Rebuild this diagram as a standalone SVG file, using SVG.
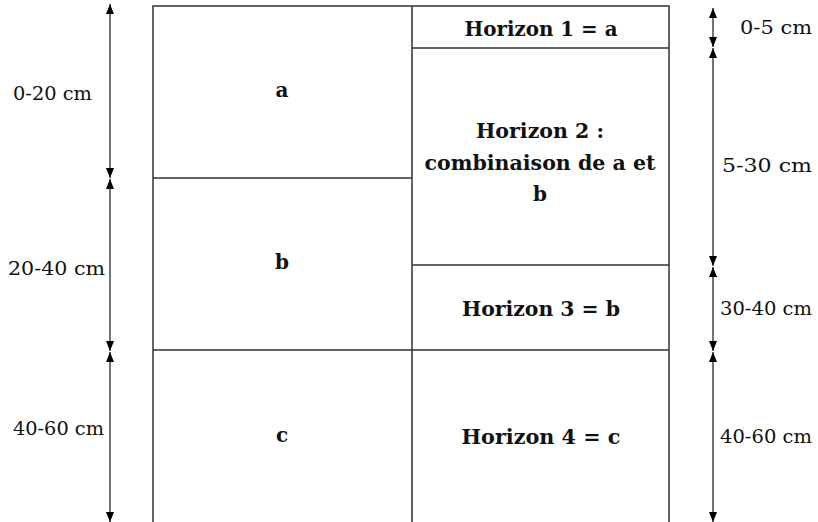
<svg xmlns="http://www.w3.org/2000/svg" width="818" height="522" viewBox="0 0 818 522">
<style>
.ln{stroke:#333;stroke-width:1.5;fill:none}
.ar{stroke:#444;stroke-width:1.5;fill:none;marker-start:url(#h);marker-end:url(#h)}
text{font-family:'DejaVu Serif',serif;fill:#111}
.t{font-size:19px}
.b{font-size:20px;font-weight:bold;text-anchor:middle}
</style>
<defs>
<marker id="h" viewBox="0 0 10 8" refX="10" refY="4" markerWidth="10" markerHeight="8" markerUnits="userSpaceOnUse" orient="auto-start-reverse">
<path d="M0,0L10,4L0,8Z" fill="#000"/>
</marker>
</defs>
<rect width="818" height="522" fill="#fff"/>
<g id="grid">
<path class="ln" d="M153,530V6H669V530M412,6V530M153,178H412M153,350H669M412,48H669M412,265H669"/>
</g>
<g id="connectors">
<line class="ar" x1="110" y1="4" x2="110" y2="178"/>
<line class="ar" x1="110" y1="179" x2="110" y2="351"/>
<line class="ar" x1="110" y1="352" x2="110" y2="522"/>
<line class="ar" x1="713" y1="8" x2="713" y2="47"/>
<line class="ar" x1="713" y1="48" x2="713" y2="266"/>
<line class="ar" x1="713" y1="267" x2="713" y2="351"/>
<line class="ar" x1="713" y1="352" x2="713" y2="522"/>
</g>
<g id="left-labels">
<text class="t" x="13" y="100" textLength="79" lengthAdjust="spacingAndGlyphs">0-20 cm</text>
<text class="t" x="8" y="275" textLength="97" lengthAdjust="spacingAndGlyphs">20-40 cm</text>
<text class="t" x="13" y="435" textLength="91" lengthAdjust="spacingAndGlyphs">40-60 cm</text>
</g>
<g id="layer-a"><text class="b" x="282" y="97">a</text></g>
<g id="layer-b"><text class="b" x="282" y="269">b</text></g>
<g id="layer-c"><text class="b" x="282" y="442">c</text></g>
<g id="horizon-1"><text class="b" x="541" y="36" textLength="153" lengthAdjust="spacingAndGlyphs">Horizon 1 = a</text></g>
<g id="horizon-2">
<text class="b" x="540" y="138" textLength="128" lengthAdjust="spacingAndGlyphs">Horizon 2 :</text>
<text class="b" x="540" y="170" textLength="231" lengthAdjust="spacingAndGlyphs">combinaison de a et</text>
<text class="b" x="540" y="201">b</text>
</g>
<g id="horizon-3"><text class="b" x="541" y="316" textLength="158" lengthAdjust="spacingAndGlyphs">Horizon 3 = b</text></g>
<g id="horizon-4"><text class="b" x="541" y="444" textLength="159" lengthAdjust="spacingAndGlyphs">Horizon 4 = c</text></g>
<g id="right-labels">
<text class="t" x="740" y="34" textLength="72" lengthAdjust="spacingAndGlyphs">0-5 cm</text>
<text class="t" x="722" y="172" textLength="90" lengthAdjust="spacingAndGlyphs">5-30 cm</text>
<text class="t" x="720" y="315" textLength="92" lengthAdjust="spacingAndGlyphs">30-40 cm</text>
<text class="t" x="720" y="443" textLength="92" lengthAdjust="spacingAndGlyphs">40-60 cm</text>
</g>
</svg>
